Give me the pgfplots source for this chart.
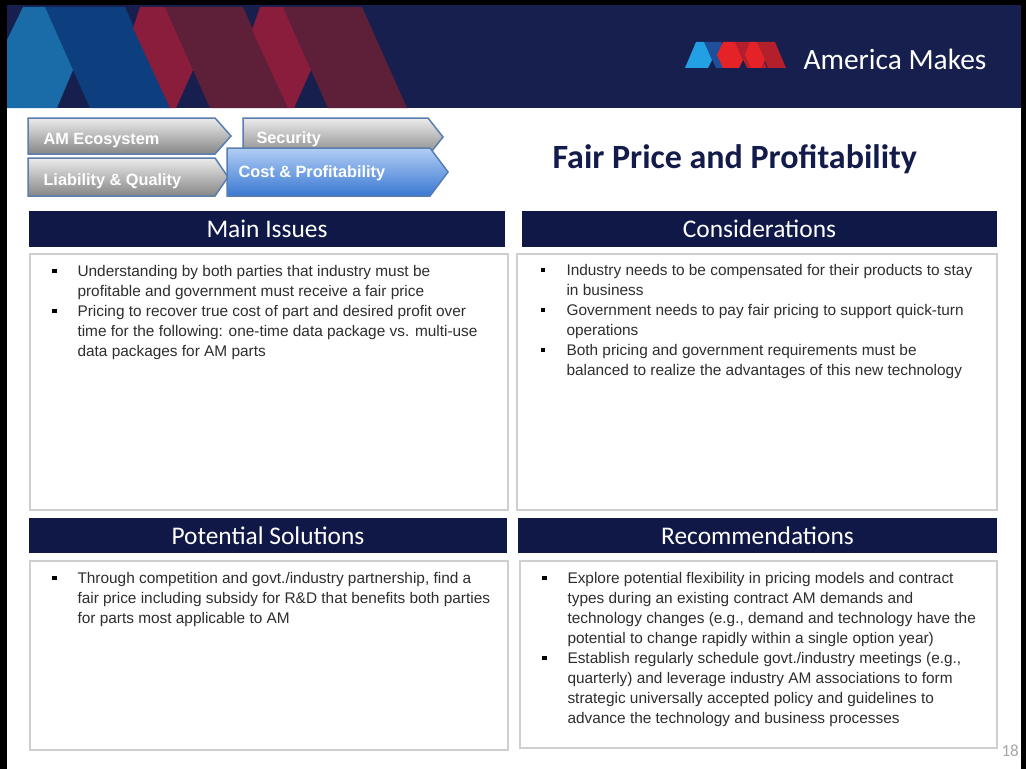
\documentclass[border=0pt]{standalone}
\usepackage{pgfplots}
\pgfplotsset{compat=1.18}
\usepackage{fontspec}
\setmainfont{Liberation Sans}
\newfontfamily\calfont{Carlito}
\definecolor{hdr}{HTML}{161F4D}
\definecolor{bar}{HTML}{101847}
\definecolor{lblue}{HTML}{1A6CA9}
\definecolor{mblue}{HTML}{0D3F7E}
\definecolor{hred}{HTML}{8A1C3C}
\definecolor{maroon}{HTML}{5E1F38}
\definecolor{logolb}{HTML}{22A0E3}
\definecolor{logob}{HTML}{1F4F9A}
\definecolor{logor}{HTML}{E42228}
\definecolor{logodr}{HTML}{B3202C}
\definecolor{tabline}{HTML}{5A7DB0}
\definecolor{boxline}{HTML}{CFCFCF}
\definecolor{bodytxt}{HTML}{2E2E2E}
\definecolor{titletxt}{HTML}{131B4A}
\newcommand\bodyfont{\fontsize{15.4bp}{20bp}\selectfont}
\newcommand\secfont{\calfont\fontsize{25.4bp}{30bp}\selectfont}
\newcommand\tabfont{\bfseries\fontsize{16.3bp}{20bp}\selectfont}
\begin{document}
\begin{tikzpicture}
\begin{axis}[x=1bp, y=1bp, xmin=0, xmax=1026, ymin=0, ymax=769, y dir=reverse,
  hide axis, scale only axis, clip=false,
  every node/.append style={inner sep=0pt, outer sep=0pt}]
% slide frame
\fill[black] (0,0) rectangle (1026,769);
\fill[white] (7,5) rectangle (1021,769);
% header band
\fill[hdr] (7,5) rectangle (1021,108);
\fill[mblue] (45,7) -- (125,7) -- (170,108) -- (90,108) -- cycle;
\fill[lblue] (7,40) -- (23,7) -- (45,7) -- (73,70) -- (57,108) -- (7,108) -- cycle;
\fill[maroon] (165,7) -- (243,7) -- (288,108) -- (210,108) -- cycle;
\fill[hred] (133,28) -- (140,7) -- (165,7) -- (193,70) -- (176,108) -- (170,108) -- cycle;
\fill[maroon] (283,7) -- (362,7) -- (407,108) -- (328,108) -- cycle;
\fill[hred] (252,30) -- (260,7) -- (283,7) -- (311,70) -- (294,108) -- (288,108) -- cycle;
% logo
\fill[logob] (704,42) -- (721,42) -- (733,68) -- (716,68) -- cycle;
\fill[logolb] (685,68) -- (696,42) -- (704,42) -- (712,60) -- (708,68) -- cycle;
\fill[logodr] (735,42) -- (755,42) -- (767,68) -- (747,68) -- cycle;
\fill[logor] (717,55) -- (723,42) -- (735,42) -- (743,60) -- (739,68) -- (723,68) -- cycle;
\fill[logodr] (757,42) -- (775,42) -- (786,68) -- (768,68) -- cycle;
\fill[logor] (745,55) -- (750,42) -- (757,42) -- (765,60) -- (761,68) -- (751,68) -- cycle;
\node[anchor=base west, text=white, font=\calfont\fontsize{29.4bp}{32bp}\selectfont] at (800,70) {America Makes};
% tabs
\shade[top color=gray!15, bottom color=gray!95!white, draw=tabline, line width=1.5bp]
  (28,118) -- (215,118) -- (231,136) -- (215,154) -- (28,154) -- cycle;
\shade[top color=gray!15, bottom color=gray!95!white, draw=tabline, line width=1.5bp]
  (28,158) -- (215,158) -- (228,177) -- (215,196) -- (28,196) -- cycle;
\shade[top color=gray!15, bottom color=gray!95!white, draw=tabline, line width=1.5bp]
  (243,118) -- (428,118) -- (443,137) -- (428,156) -- (243,156) -- cycle;
\node[anchor=base west, text=white, font=\tabfont] at (40,144) {AM Ecosystem};
\node[anchor=base west, text=white, font=\tabfont] at (40,185) {Liability \& Quality};
\node[anchor=base west, text=white, font=\tabfont] at (253,143.5) {Security};
\shade[top color={rgb,255:red,178;green,206;blue,244}, bottom color={rgb,255:red,58;green,120;blue,210}, draw=tabline, line width=1.5bp]
  (227,148) -- (430,148) -- (448,172) -- (430,196) -- (227,196) -- cycle;
\node[anchor=base west, text=white, font=\tabfont] at (235,177) {Cost \& Profitability};
% title
\node[anchor=base west, text=titletxt, font=\calfont\bfseries\fontsize{34bp}{38bp}\selectfont] at (549,168) {Fair Price and Profitability};
% section bars
\fill[bar] (29,211) rectangle (505,247);
\fill[bar] (522,211) rectangle (997,247);
\fill[bar] (29,518) rectangle (507,553);
\fill[bar] (518,518) rectangle (997,553);
\node[anchor=base, text=white, font=\secfont] at (267,237) {Main Issues};
\node[anchor=base, text=white, font=\secfont] at (759.5,237) {Considerations};
\node[anchor=base, text=white, font=\secfont] at (268,544) {Potential Solutions};
\node[anchor=base, text=white, font=\secfont] at (757.5,544) {Recommendations};
% content boxes
\draw[boxline, line width=1.6bp] (30,254) rectangle (508,510);
\draw[boxline, line width=1.6bp] (517,254) rectangle (997,510);
\draw[boxline, line width=1.6bp] (30,561) rectangle (508,750);
\draw[boxline, line width=1.6bp] (520,561) rectangle (997,748);
% Main issues
\fill[black] (52,268.5) rectangle (56.5,273);
\fill[black] (52,308.5) rectangle (56.5,313);
\node[anchor=base west, text=bodytxt, font=\bodyfont] at (74,276) {Understanding by both parties that industry must be};
\node[anchor=base west, text=bodytxt, font=\bodyfont] at (74,296) {profitable and government must receive a fair price};
\node[anchor=base west, text=bodytxt, font=\bodyfont] at (74,316) {Pricing to recover true cost of part and desired profit over};
\node[anchor=base west, text=bodytxt, font=\bodyfont] at (74,336) {time for the following: one-time data package vs. multi-use};
\node[anchor=base west, text=bodytxt, font=\bodyfont] at (74,356) {data packages for AM parts};
% Considerations
\fill[black] (540.5,267.5) rectangle (545,272);
\fill[black] (540.5,307.5) rectangle (545,312);
\fill[black] (540.5,347.5) rectangle (545,352);
\node[anchor=base west, text=bodytxt, font=\bodyfont] at (563,275) {Industry needs to be compensated for their products to stay};
\node[anchor=base west, text=bodytxt, font=\bodyfont] at (563,295) {in business};
\node[anchor=base west, text=bodytxt, font=\bodyfont] at (563,315) {Government needs to pay fair pricing to support quick-turn};
\node[anchor=base west, text=bodytxt, font=\bodyfont] at (563,335) {operations};
\node[anchor=base west, text=bodytxt, font=\bodyfont] at (563,355) {Both pricing and government requirements must be};
\node[anchor=base west, text=bodytxt, font=\bodyfont] at (563,375) {balanced to realize the advantages of this new technology};
% Potential solutions
\fill[black] (52,575.5) rectangle (56.5,580);
\node[anchor=base west, text=bodytxt, font=\bodyfont] at (74,583) {Through competition and govt./industry partnership, find a};
\node[anchor=base west, text=bodytxt, font=\bodyfont] at (74,603) {fair price including subsidy for R\&D that benefits both parties};
\node[anchor=base west, text=bodytxt, font=\bodyfont] at (74,623) {for parts most applicable to AM};
% Recommendations
\fill[black] (542,575.5) rectangle (546.5,580);
\fill[black] (542,655.5) rectangle (546.5,660);
\node[anchor=base west, text=bodytxt, font=\bodyfont] at (564,583) {Explore potential flexibility in pricing models and contract};
\node[anchor=base west, text=bodytxt, font=\bodyfont] at (564,603) {types during an existing contract AM demands and};
\node[anchor=base west, text=bodytxt, font=\bodyfont] at (564,623) {technology changes (e.g., demand and technology have the};
\node[anchor=base west, text=bodytxt, font=\bodyfont] at (564,643) {potential to change rapidly within a single option year)};
\node[anchor=base west, text=bodytxt, font=\bodyfont] at (564,663) {Establish regularly schedule govt./industry meetings (e.g.,};
\node[anchor=base west, text=bodytxt, font=\bodyfont] at (564,683) {quarterly) and leverage industry AM associations to form};
\node[anchor=base west, text=bodytxt, font=\bodyfont] at (564,703) {strategic universally accepted policy and guidelines to};
\node[anchor=base west, text=bodytxt, font=\bodyfont] at (564,723) {advance the technology and business processes};
% page number
\node[anchor=base west, text=gray!70, font=\calfont\fontsize{17bp}{20bp}\selectfont] at (998,756) {18};
\end{axis}
\end{tikzpicture}
\end{document}
